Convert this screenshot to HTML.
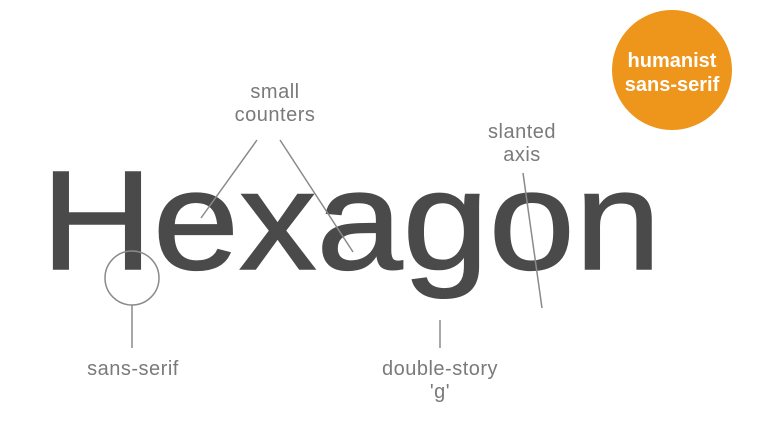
<!DOCTYPE html>
<html><head><meta charset="utf-8"><style>
html,body{margin:0;padding:0;background:#fff;}
svg{display:block;font-family:"Liberation Sans",sans-serif;}
</style></head><body>
<svg width="769" height="432" viewBox="0 0 769 432">
<rect width="769" height="432" fill="#ffffff"/>
<text x="41" y="269" font-size="141" fill="#4a4a4a" stroke="#4a4a4a" stroke-width="1.5" textLength="620" lengthAdjust="spacingAndGlyphs">Hexagon</text>
<g stroke="#8a8a8a" stroke-width="1.5" fill="none">
<circle cx="132" cy="278" r="27"/>
<line x1="132" y1="305" x2="132" y2="348"/>
<line x1="257" y1="140" x2="201" y2="218"/>
<line x1="280" y1="140" x2="353" y2="252"/>
<line x1="523" y1="173" x2="542" y2="308"/>
<line x1="440" y1="320" x2="440" y2="348"/>
</g>
<g fill="#7a7a7a" font-size="20" text-anchor="middle" letter-spacing="0.5">
<text x="275" y="98">small</text>
<text x="275" y="121">counters</text>
<text x="522" y="138">slanted</text>
<text x="522" y="161">axis</text>
<text x="133" y="375">sans-serif</text>
<text x="440" y="375">double-story</text>
<text x="440" y="398">'g'</text>
</g>
<circle cx="672" cy="70" r="60" fill="#ee951c"/>
<g fill="#ffffff" font-size="20" font-weight="bold" text-anchor="middle">
<text x="672" y="67">humanist</text>
<text x="672" y="91">sans-serif</text>
</g>
</svg>
</body></html>
